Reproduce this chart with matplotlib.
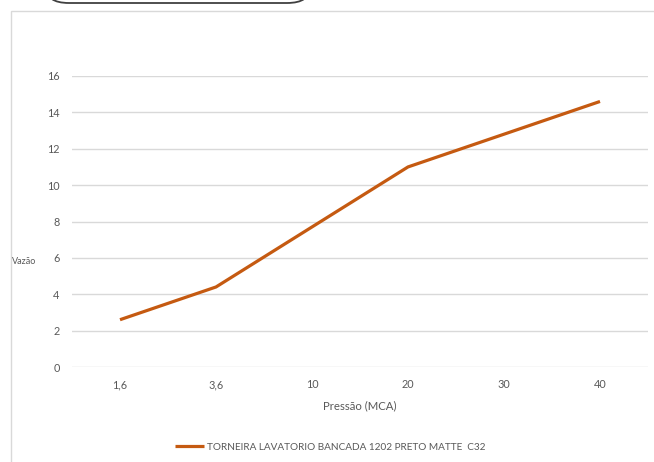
import matplotlib
matplotlib.use("Agg")
import matplotlib.pyplot as plt
from matplotlib.patches import Rectangle, FancyBboxPatch

categories = ["1,6", "3,6", "10", "20", "30", "40"]
values = [2.6, 4.4, 7.7, 11.0, 12.8, 14.6]
series_name = "TORNEIRA LAVATORIO BANCADA 1202 PRETO MATTE  C32"
x_label = "Pressão (MCA)"
y_label = "Vazão"
y_ticks = [0, 2, 4, 6, 8, 10, 12, 14, 16]

plt.rcParams['font.family'] = ['Lato', 'DejaVu Sans']
W, H = 654, 462
fig = plt.figure(figsize=(W / 100, H / 100), dpi=100)
fig.patch.set_facecolor("white")

def fx(px):
    return px / W

def fy(py):
    return 1 - py / H

# chart area border
fig.patches.append(Rectangle((fx(10.5), fy(470)), fx(700), fy(10.5) - fy(470),
                             transform=fig.transFigure, facecolor="none",
                             edgecolor="#D9D9D9", lw=1.0))
# rounded box at top (cut off)
fig.patches.append(FancyBboxPatch((fx(46), fy(3)), fx(310) - fx(46), fy(-30) - fy(3),
                                  boxstyle="round,pad=0,rounding_size=0.035",
                                  transform=fig.transFigure, facecolor="white",
                                  edgecolor="#404040", lw=1.3, mutation_aspect=1))

ax = fig.add_axes([fx(72), fy(367), fx(648) - fx(72), fy(76) - fy(367)])
x = list(range(len(categories)))
ax.plot(x, values, color="#C55A11", lw=2.3, solid_capstyle="butt",
        solid_joinstyle="miter", label=series_name)
ax.set_xlim(-0.5, len(categories) - 0.5)
ax.set_ylim(0, 16)
ax.set_yticks(y_ticks)
ax.set_yticklabels([str(v) for v in y_ticks])
ax.set_xticks(x)
ax.set_xticklabels(categories)
ax.grid(axis="y", color="#D9D9D9", lw=1.0)
ax.set_axisbelow(True)
for s in ax.spines.values():
    s.set_visible(False)
ax.tick_params(axis="both", length=0, labelsize=7.8, colors="#595959")
ax.tick_params(axis="y", pad=9)
ax.tick_params(axis="x", pad=9)
ax.set_xlabel(x_label, fontsize=8.2, color="#595959", labelpad=7)

fig.text(fx(24), fy(262), y_label, fontsize=6.5, color="#595959",
         ha="center", va="center")

leg = fig.legend(loc="center", bbox_to_anchor=(fx(330), fy(447)), frameon=False,
                 fontsize=7.2, handlelength=2.9, handletextpad=0.3)
for t in leg.get_texts():
    t.set_color("#595959")

fig.savefig("out.png", dpi=100)
